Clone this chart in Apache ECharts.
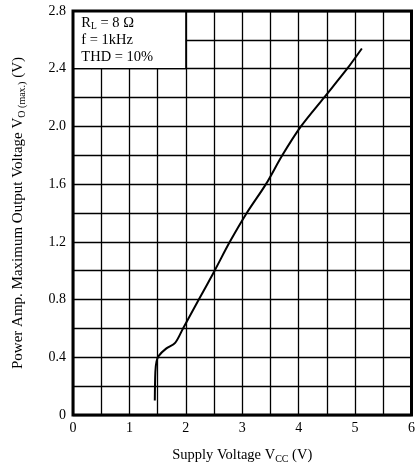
<!DOCTYPE html>
<html><head><meta charset="utf-8">
<script src="https://cdn.jsdelivr.net/npm/echarts@6/dist/echarts.min.js"></script>
<style>html,body{margin:0;padding:0;background:#fff}#c{width:418px;height:470px}</style>
</head><body><div id="c"></div>
<script>
const vcc = [1.45, 1.46, 1.48, 1.52, 1.65, 1.81, 1.95, 2.23, 2.51, 2.78, 3.08, 3.42, 3.71, 4.04, 4.45, 4.86, 5.12];
const vout = [0.10, 0.30, 0.37, 0.41, 0.46, 0.50, 0.60, 0.80, 1.00, 1.20, 1.40, 1.60, 1.80, 2.00, 2.20, 2.40, 2.54];
const xTicks = [0, 1, 2, 3, 4, 5, 6];
const yTicks = ['0', '0.4', '0.8', '1.2', '1.6', '2.0', '2.4', '2.8'];
const condBox = [[0, 2.4], [2, 2.8]];

const FONT = 'Liberation Serif';
const chart = echarts.init(document.getElementById('c'));
chart.setOption({
  backgroundColor: '#fff',
  animation: false,
  grid: { left: 73, right: 4, top: 11, bottom: 55, show: true, borderWidth: 3, borderColor: '#000', backgroundColor: 'transparent', z: 10 },
  xAxis: {
    type: 'value', min: xTicks[0], max: xTicks[xTicks.length - 1], interval: 1,
    axisLine: { show: false }, axisTick: { show: false },
    axisLabel: { color: '#000', fontFamily: FONT, fontSize: 14, margin: 6, formatter: v => String(v) },
    splitLine: { show: true, lineStyle: { color: '#000', width: 1.3 } },
    minorTick: { show: false, splitNumber: 2 },
    minorSplitLine: { show: true, lineStyle: { color: '#000', width: 1.3 } },
    name: '{a|Supply Voltage V}{s|CC}{a| (V)}', nameLocation: 'middle', nameGap: 32,
    nameTextStyle: { rich: {
      a: { fontFamily: FONT, fontSize: 14.5, color: '#000', lineHeight: 17 },
      s: { fontFamily: FONT, fontSize: 10, color: '#000', lineHeight: 17, verticalAlign: 'bottom', padding: [4, 0, 0, 0] }
    } }
  },
  yAxis: {
    type: 'value', min: 0, max: 2.8, interval: 0.4,
    axisLine: { show: false }, axisTick: { show: false },
    axisLabel: { color: '#000', fontFamily: FONT, fontSize: 14, margin: 7, formatter: (v, i) => yTicks[i] },
    splitLine: { show: true, lineStyle: { color: '#000', width: 1.3 } },
    minorTick: { show: false, splitNumber: 2 },
    minorSplitLine: { show: true, lineStyle: { color: '#000', width: 1.3 } },
    name: '{a|Power Amp. Maximum Output Voltage V}{s|O (max.)}{a| (V)}', nameLocation: 'middle', nameGap: 46,
    nameTextStyle: { rich: {
      a: { fontFamily: FONT, fontSize: 15, color: '#000', lineHeight: 17 },
      s: { fontFamily: FONT, fontSize: 10, color: '#000', lineHeight: 17, verticalAlign: 'bottom', padding: [4, 0, 0, 0] }
    } }
  },
  series: [{
    type: 'line',
    data: vcc.map((x, i) => [x, vout[i]]),
    showSymbol: false, symbol: 'none', smooth: 0.3,
    lineStyle: { color: '#000', width: 2 },
    markArea: {
      silent: true,
      itemStyle: { color: '#fff', opacity: 1, borderColor: '#000', borderWidth: 1.3 },
      label: {
        show: true, position: [9, 4], align: 'left', verticalAlign: 'top',
        formatter: '{a|R}{s|L}{a| = 8 Ω}\n{a|f = 1kHz}\n{a|THD = 10%}',
        rich: {
          a: { fontFamily: FONT, fontSize: 14.5, color: '#000', lineHeight: 17 },
          s: { fontFamily: FONT, fontSize: 9.5, color: '#000', lineHeight: 17, verticalAlign: 'bottom', padding: [4, 0, 0, 0] }
        }
      },
      data: [[{ coord: condBox[0] }, { coord: condBox[1] }]]
    }
  }]
});
</script></body></html>
